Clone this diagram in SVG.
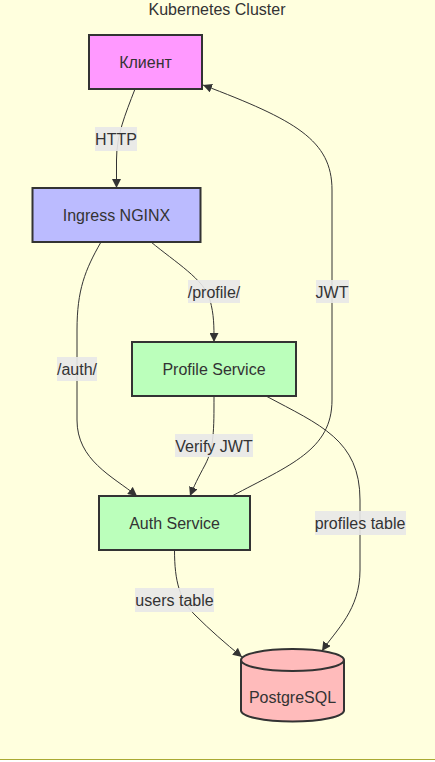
<svg xmlns="http://www.w3.org/2000/svg" width="435" height="762" viewBox="0 0 435 762">
<style>
text{font-family:"Liberation Sans",Arial,sans-serif;font-size:16px;fill:#333;text-anchor:middle;dominant-baseline:central}
.node{stroke:#333;stroke-width:2}
.edge{fill:none;stroke:#333;stroke-width:1}
.lbl{fill:#e8e8e8;fill-opacity:0.9}
</style>
<defs>
<marker id="arr" viewBox="0 0 10 10" refX="10" refY="5" markerUnits="userSpaceOnUse" markerWidth="9" markerHeight="9" orient="auto">
<path d="M0,0 L10,5 L0,10 z" fill="#333"/>
</marker>
</defs>
<rect x="0" y="0" width="435" height="762" fill="#ffffff"/>
<g id="cluster">
<rect x="-1" y="-1" width="437" height="760.5" fill="#ffffde" stroke="#aaaa33" stroke-width="1"/>
<text x="217" y="9">Kubernetes Cluster</text>
</g>
<g id="connectors">
<path class="edge" marker-end="url(#arr)" d="M135,89 C125,115 116.5,135 116.5,160 L116.5,188"/>
<path class="edge" marker-end="url(#arr)" d="M151,242 C175,262 205,280 210,300 C214,315 214,325 214,342"/>
<path class="edge" marker-end="url(#arr)" d="M101,242 C85,270 77,290 77,330 L77,420 C77,460 112,476 137,496"/>
<path class="edge" marker-end="url(#arr)" d="M214,396 C214,430 214,448 205,465 C198,478 194,486 190,496"/>
<path class="edge" marker-end="url(#arr)" d="M232,496 C290,465 332,450 332,400 L332,190 C332,140 295,120 203,85"/>
<path class="edge" marker-end="url(#arr)" d="M266,396 C320,425 360,440 360,500 L360,570 C360,610 336,630 322,651"/>
<path class="edge" marker-end="url(#arr)" d="M174.5,550 C174.5,582 180,600 195,615 C210,630 225,643 242,657"/>
<g id="edge-labels">
<rect class="lbl" x="95" y="127" width="42" height="24"/><text x="116" y="139">HTTP</text>
<rect class="lbl" x="188" y="280" width="52" height="23"/><text x="214" y="292">/profile/</text>
<rect class="lbl" x="57" y="357" width="40" height="24"/><text x="77" y="369">/auth/</text>
<rect class="lbl" x="175" y="434" width="78" height="23"/><text x="214" y="446">Verify JWT</text>
<rect class="lbl" x="316" y="280" width="33" height="23"/><text x="332" y="292">JWT</text>
<rect class="lbl" x="315" y="511" width="91" height="24"/><text x="360" y="523">profiles table</text>
<rect class="lbl" x="135" y="588" width="79" height="24"/><text x="174.5" y="600">users table</text>
</g>
</g>
<g id="client">
<rect class="node" x="89" y="35" width="113" height="54" fill="#ff99ff"/>
<text x="145.5" y="62">Клиент</text>
</g>
<g id="ingress">
<rect class="node" x="32.5" y="188" width="168" height="54" fill="#bbbbff"/>
<text x="116.5" y="215">Ingress NGINX</text>
</g>
<g id="profile">
<rect class="node" x="132" y="342" width="164" height="54" fill="#bbffbb"/>
<text x="214" y="369">Profile Service</text>
</g>
<g id="auth">
<rect class="node" x="99" y="496" width="151" height="54" fill="#bbffbb"/>
<text x="174.5" y="523">Auth Service</text>
</g>
<g id="postgres">
<path class="node" fill="#ffbbbb" d="M241,660 A51.5,11 0 0 1 344,660 L344,710.5 A51.5,11 0 0 1 241,710.5 Z"/>
<path class="node" fill="none" d="M241,660 A51.5,11 0 0 0 344,660"/>
<text x="292.5" y="697">PostgreSQL</text>
</g>
</svg>
